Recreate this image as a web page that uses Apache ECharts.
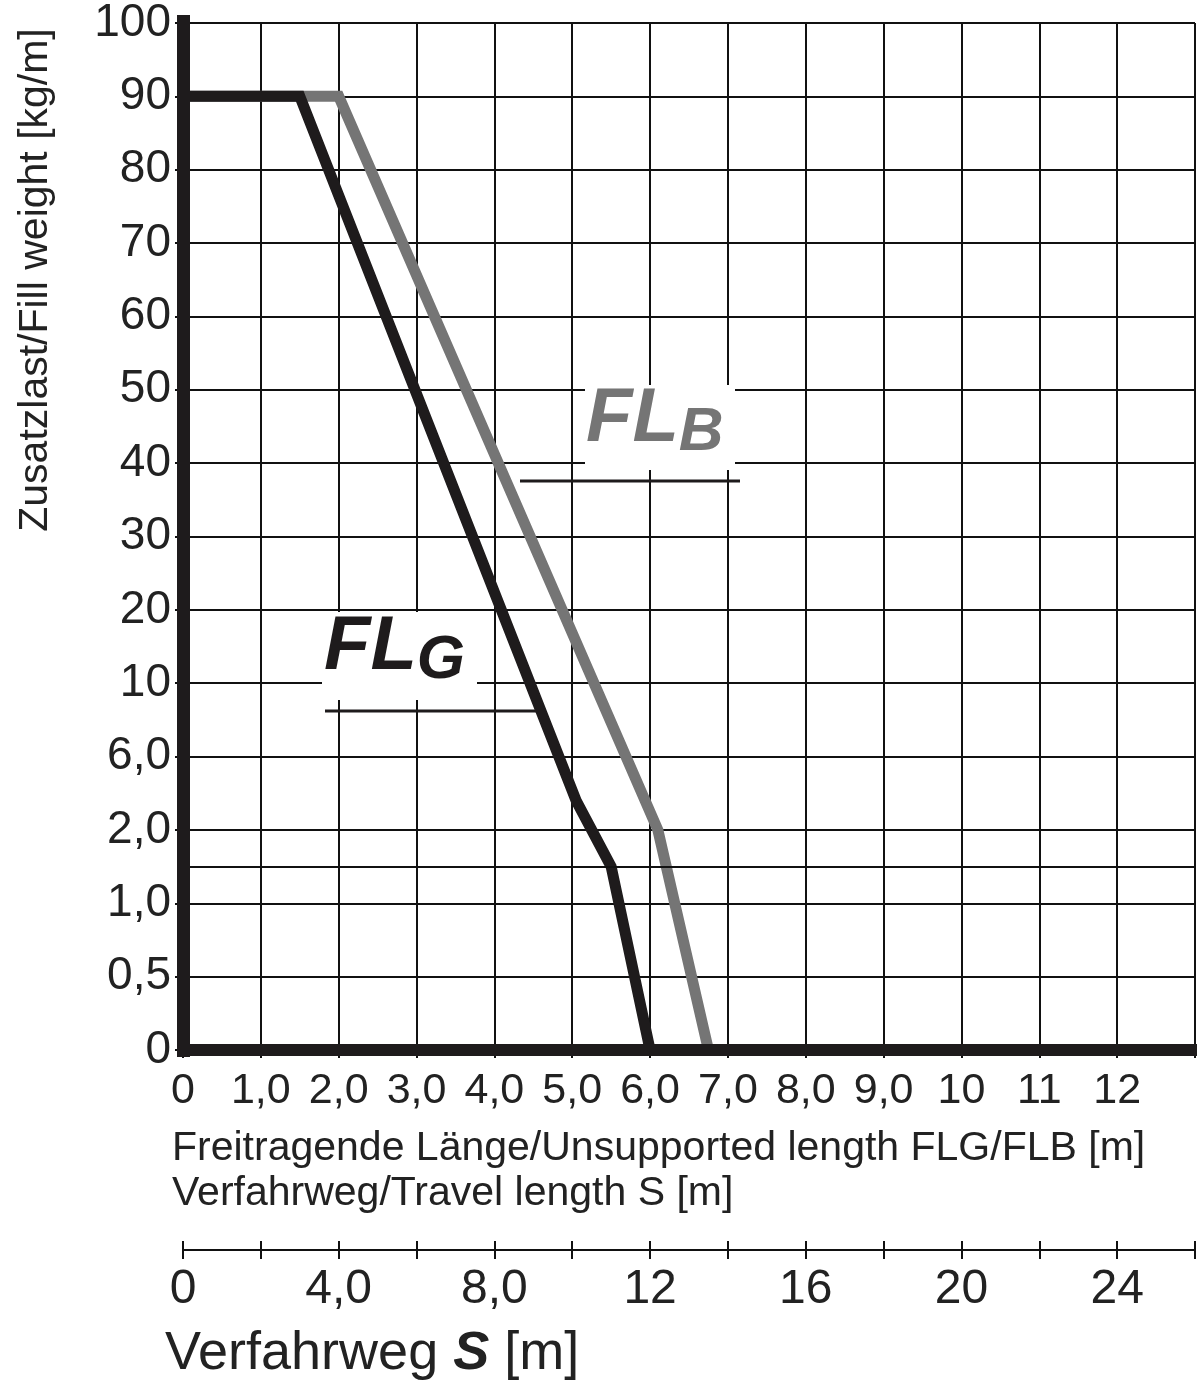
<!DOCTYPE html>
<html>
<head>
<meta charset="utf-8">
<script src="https://cdn.jsdelivr.net/npm/echarts@6/dist/echarts.min.js"></script>
<style>html,body{margin:0;padding:0;background:#fff}#chart{width:1200px;height:1395px}</style>
</head>
<body>
<div id="chart"></div>
<script>
// y labels at equally spaced index positions (non-linear scale)
var yLabels = ['0', '0,5', '1,0', '2,0', '6,0', '10', '20', '30', '40', '50', '60', '70', '80', '90', '100'];
var xLabels = ['0', '1,0', '2,0', '3,0', '4,0', '5,0', '6,0', '7,0', '8,0', '9,0', '10', '11', '12'];
var sLabels = ['0', '4,0', '8,0', '12', '16', '20', '24'];
// curve points [length m, y index]
var flgData = [[0, 13], [1.5, 13], [5.05, 3.4], [5.5, 2.5], [6.0, 0]];
var flbData = [[0, 13], [2.0, 13], [6.1, 3], [6.75, 0]];

var font = 'Liberation Sans';
var myChart = echarts.init(document.getElementById('chart'));
var option = {
    animation: false,
    grid: [
        {left: 183, right: 5, top: 22, bottom: 345},
        {left: 183, right: 5, top: 1250, height: 0}
    ],
    xAxis: [
        {gridIndex: 0, type: 'value', min: 0, max: 13, interval: 1,
         axisLine: {show: false},
         axisTick: {show: true, length: 8, lineStyle: {color: '#111', width: 2}},
         axisLabel: {fontFamily: font, fontSize: 43, color: '#222', margin: 20,
             formatter: function(v){ return xLabels[v] || ''; }},
         splitLine: {show: true, lineStyle: {color: '#111', width: 2}}},
        {gridIndex: 1, type: 'value', min: 0, max: 13, interval: 1, position: 'bottom',
         axisLine: {show: true, lineStyle: {color: '#111', width: 2}},
         axisTick: {show: true, length: 9, lineStyle: {color: '#111', width: 2}},
         axisLabel: {fontFamily: font, fontSize: 48, color: '#222', margin: 16,
             formatter: function(v){ return (v % 2 === 0) ? (sLabels[v / 2] || '') : ''; }},
         splitLine: {show: false}},
        {gridIndex: 1, type: 'value', min: 0, max: 13, interval: 1, position: 'top',
         axisLine: {show: false},
         axisTick: {show: true, length: 9, lineStyle: {color: '#111', width: 2}},
         axisLabel: {show: false}, splitLine: {show: false}}
    ],
    yAxis: [
        {gridIndex: 0, type: 'value', min: 0, max: 14, interval: 1,
         axisLine: {show: false},
         axisTick: {show: true, length: 8, lineStyle: {color: '#111', width: 2}},
         axisLabel: {fontFamily: font, fontSize: 46, color: '#222', margin: 12,
             formatter: function(v){ return yLabels[v] || ''; }},
         splitLine: {show: true, lineStyle: {color: '#111', width: 2}}},
        {gridIndex: 1, type: 'value', show: false}
    ],
    series: [
        {type: 'line', xAxisIndex: 0, yAxisIndex: 0, data: [[0, 0], [13, 0]], symbol: 'none',
         lineStyle: {color: '#111', width: 2}, silent: true,
         markLine: {symbol: 'none', silent: true, label: {show: false},
             lineStyle: {color: '#111', width: 2, type: 'solid'}, data: [{yAxis: 2.5}]}},
        {name: 'FLB', type: 'line', xAxisIndex: 0, yAxisIndex: 0, data: flbData, symbol: 'none',
         lineStyle: {color: '#757575', width: 11, join: 'miter'}},
        {name: 'FLG', type: 'line', xAxisIndex: 0, yAxisIndex: 0, data: flgData, symbol: 'none',
         lineStyle: {color: '#1e1b1c', width: 11, join: 'miter'}}
    ],
    graphic: [
        // thick axes
        {type: 'rect', shape: {x: 177, y: 15, width: 13, height: 1042}, style: {fill: '#1e1b1c'}, z: 100},
        {type: 'rect', shape: {x: 177, y: 1044, width: 1020, height: 12}, style: {fill: '#1e1b1c'}, z: 100},
        // FLB label
        {type: 'rect', shape: {x: 585, y: 385, width: 150, height: 85}, style: {fill: '#fff'}, z: 90},
        {type: 'text', left: 586, top: 382, z: 95, style: {
            text: '{a|FL}{b|B}', rich: {
                a: {fontFamily: font, fontSize: 76, fontWeight: 'bold', fontStyle: 'italic', fill: '#757575'},
                b: {fontFamily: font, fontSize: 62, fontWeight: 'bold', fontStyle: 'italic', fill: '#757575', padding: [26, 0, 0, 0]}
            }}},
        {type: 'line', shape: {x1: 520, y1: 481, x2: 740, y2: 481}, style: {stroke: '#1e1b1c', lineWidth: 3}, z: 95},
        // FLG label
        {type: 'rect', shape: {x: 322, y: 612, width: 155, height: 88}, style: {fill: '#fff'}, z: 90},
        {type: 'text', left: 324, top: 610, z: 95, style: {
            text: '{a|FL}{b|G}', rich: {
                a: {fontFamily: font, fontSize: 76, fontWeight: 'bold', fontStyle: 'italic', fill: '#1e1b1c'},
                b: {fontFamily: font, fontSize: 62, fontWeight: 'bold', fontStyle: 'italic', fill: '#1e1b1c', padding: [26, 0, 0, 0]}
            }}},
        {type: 'line', shape: {x1: 325, y1: 711, x2: 540, y2: 711}, style: {stroke: '#1e1b1c', lineWidth: 3}, z: 95},
        // titles
        {type: 'text', left: 172, top: 1128, style: {text: 'Freitragende Länge/Unsupported length FLG/FLB [m]',
            fontFamily: font, fontSize: 41, fill: '#222'}},
        {type: 'text', left: 172, top: 1173, style: {text: 'Verfahrweg/Travel length S [m]',
            fontFamily: font, fontSize: 41, fill: '#222'}},
        {type: 'text', left: 165, top: 1327, style: {
            text: '{a|Verfahrweg }{b|S}{a| [m]}', rich: {
                a: {fontFamily: font, fontSize: 54, fill: '#222'},
                b: {fontFamily: font, fontSize: 54, fill: '#222', fontWeight: 'bold', fontStyle: 'italic'}
            }}},
        {type: 'text', x: 36, y: 280, rotation: Math.PI / 2, style: {text: 'Zusatzlast/Fill weight [kg/m]',
            fontFamily: font, fontSize: 41, fill: '#222', align: 'center', verticalAlign: 'middle'}}
    ]
};
myChart.setOption(option);
</script>
</body>
</html>
